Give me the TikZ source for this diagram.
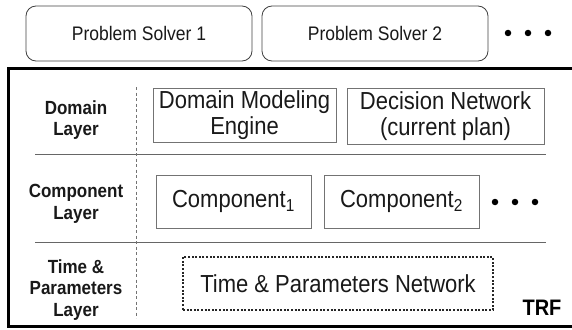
\documentclass[tikz,border=0pt]{standalone}
\usepackage{fontspec}
\usepackage{graphicx}
\setmainfont{Liberation Sans}
% slightly taller lettering for the unit boxes
\newcommand{\tallln}[1]{\scalebox{1}[1.12]{#1}}
\begin{document}
\begin{tikzpicture}[x=1pt,y=-1pt]
\tikzset{
  solver/.style={draw=black!75, line width=0.8pt, rounded corners=10pt,
    minimum width=226pt, minimum height=55pt, inner sep=0pt,
    font=\fontsize{17.5}{20}\selectfont, text=black!90},
  layerlabel/.style={font=\fontsize{17}{21.5}\selectfont\bfseries,
    align=center, inner sep=0pt, text=black!90},
  unit/.style={draw=black!55, line width=0.7pt, inner sep=0pt,
    font=\fontsize{22}{26}\selectfont, align=center, text=black!90},
  netbox/.style={draw=black!85, line width=2pt, dash pattern=on 2pt off 1.6pt,
    inner sep=0pt, font=\fontsize{22}{26}\selectfont, text=black!90},
  dotmark/.style={circle, fill=black, inner sep=0pt, minimum size=6.5pt},
  divider/.style={draw=black!60, line width=0.8pt},
  layersep/.style={draw=black!55, line width=1pt, dash pattern=on 3pt off 2.5pt},
  frame/.style={draw=black, line width=3pt},
  trflabel/.style={font=\fontsize{20}{24}\selectfont\bfseries, inner sep=0pt}
}
\useasboundingbox (0,0) rectangle (572,329);
\clip (0,0) rectangle (572,329);

% problem solvers on top of the framework
\node[solver] (ps1) at (139,33.5) {\tallln{Problem Solver 1}};
\node[solver] (ps2) at (375,33.5) {\tallln{Problem Solver 2}};
\node[dotmark] (pd1) at (508,33) {};
\node[dotmark] (pd2) at (528,33) {};
\node[dotmark] (pd3) at (548,33) {};

% framework border
\draw[frame] (8.5,68.5) rectangle (590,326);

% layer separators
\coordinate (d1a) at (35,154);  \coordinate (d1b) at (546,154);
\coordinate (d2a) at (35,242);  \coordinate (d2b) at (546,242);
\coordinate (vsa) at (136,87);  \coordinate (vsb) at (136,318);
\draw[divider] (d1a) -- (d1b);
\draw[divider] (d2a) -- (d2b);
\draw[layersep] (vsa) -- (vsb);

% layer names
\node[layerlabel] (ldom) at (76,120) {\tallln{Domain}\\\tallln{Layer}};
\node[layerlabel] (lcomp) at (76,204) {\tallln{Component}\\\tallln{Layer}};
\node[layerlabel] (ltime) at (76,290)
  {\tallln{Time \&}\\\tallln{Parameters}\\\tallln{Layer}};

% domain layer
\node[unit, minimum width=183pt, minimum height=54pt] (dme) at (244.5,115)
  {\tallln{Domain Modeling}\\\tallln{Engine}};
\node[unit, minimum width=197pt, minimum height=56pt] (dn) at (445.5,116)
  {\tallln{Decision Network}\\\tallln{(current plan)}};

% component layer
\node[unit, minimum width=155pt, minimum height=53pt] (c1) at (233.5,201.5)
  {\tallln{Component\textsubscript{1}}};
\node[unit, minimum width=155pt, minimum height=53pt] (c2) at (401.5,201.5)
  {\tallln{Component\textsubscript{2}}};
\node[dotmark] (cd1) at (495,202) {};
\node[dotmark] (cd2) at (515,202) {};
\node[dotmark] (cd3) at (535,202) {};

% time and parameters layer
\node[netbox, minimum width=310pt, minimum height=53pt] (tpn) at (338,283.5)
  {\tallln{Time \& Parameters Network}};

\node[trflabel] (trf) at (542,307.5) {\tallln{TRF}};
\end{tikzpicture}
\end{document}
